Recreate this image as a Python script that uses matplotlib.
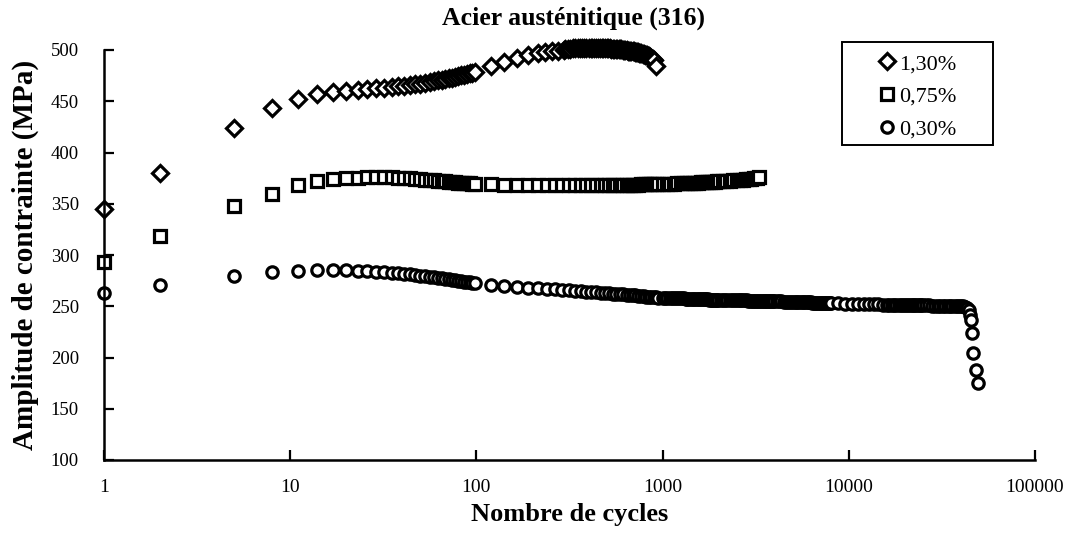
import matplotlib
matplotlib.use("Agg")
import matplotlib.pyplot as plt
from matplotlib.patches import Rectangle

# cycle numbers
cycles_early = [1, 2, 5, 8, 11, 14, 17, 20, 23, 26, 29, 32, 35, 38, 41, 44, 47, 50,
                53, 56, 59, 62, 65, 68, 71, 74, 77, 80, 83, 86, 89, 92, 95, 98]
cycles_mid = [120, 140, 165, 190, 215, 240, 265, 290, 315, 340, 365, 390, 415, 440,
              465, 490, 515, 540, 565, 590, 615, 640, 665, 690, 715, 740, 765, 790,
              815, 840, 870, 900, 925]
cycles_dia_mid = [120, 140, 165, 190, 215, 235, 255, 275, 295,
                  300, 310, 320, 330, 340, 350, 360, 370, 380, 390,
                  400, 410, 420, 430, 440, 450, 460, 470, 480, 490,
                  500, 510, 520, 530, 540, 550, 560, 570, 580, 590,
                  600, 610, 620, 630, 640, 650, 660, 670, 680, 690,
                  700, 710, 720, 730, 740, 750, 760, 770, 780, 790,
                  800, 810, 820, 830, 840, 850, 860, 870, 880, 890,
                  900, 925]
cycles_sq_tail = [950, 1000, 1050, 1100, 1150, 1200, 1250, 1300, 1350, 1400, 1450,
                  1500, 1550, 1600, 1650, 1700, 1750, 1800, 1850, 1900, 1950, 2000,
                  2100, 2200, 2300, 2400, 2500, 2600, 2700, 2800, 2900, 3000, 3100,
                  3200, 3300]
cycles_circ_tail = [950,
                    1000, 1030, 1060, 1090, 1120, 1150, 1180, 1210, 1240, 1270,
                    1300, 1330, 1360, 1390, 1420, 1450, 1480, 1510, 1540, 1570,
                    1600, 1630, 1660, 1690, 1720, 1750, 1780, 1810, 1840, 1870,
                    1900, 1930, 1960, 1990,
                    2050, 2110, 2170, 2230, 2290, 2350, 2410, 2470, 2530, 2590,
                    2650, 2710, 2770, 2830, 2890, 2950, 3010, 3070, 3130, 3190,
                    3250, 3310, 3370, 3430, 3490, 3550, 3610, 3670, 3730, 3790,
                    3850, 3910, 3970,
                    4100, 4220, 4340, 4460, 4580, 4700, 4820, 4940, 5060, 5180,
                    5300, 5420, 5540, 5660, 5780, 5900, 6020, 6140, 6260, 6380,
                    6500, 6620, 6740, 6860, 6980, 7100, 7220, 7340, 7460, 7580,
                    7700, 7820, 7940,
                    8000, 8800, 9600, 10400, 11200, 12000, 12800, 13600, 14400,
                    15200, 16000,
                    16500, 17000, 17500, 18000, 18500, 19000, 19500, 20000, 20500,
                    21000, 21500, 22000, 22500, 23000, 23500, 24000, 24500,
                    25000, 26000, 27000, 28000, 29000, 30000, 31000, 32000, 33000,
                    34000, 35000, 36000, 37000, 38000, 39000, 40000, 41000,
                    42000, 43000, 44000, 44700, 45200, 45700, 46600, 48000, 49600]

# stress amplitude (MPa)
s130_early = [345, 380, 424, 443, 452, 457, 459, 460, 461, 462, 462.5, 463, 464, 464.5,
              465, 466, 466.5, 467, 468, 469, 470, 470.5, 471, 472, 472.5, 473, 474,
              475, 475.5, 476, 477, 477.5, 478, 479]
s130_mid = [484, 488, 492, 495, 497, 498, 499, 499.5, 500,
            500.5, 501, 501, 501.5, 501.5, 502, 502, 502, 502, 502,
            502, 502, 502, 502, 502, 502, 502, 502, 501.5, 501.5,
            501.5, 501.5, 501.5, 501, 501, 501, 501, 500.5, 500.5, 500.5,
            500.5, 500, 500, 500, 500, 499.5, 499.5, 499.5, 499, 499,
            499, 498.5, 498.5, 498, 498, 497.5, 497, 497, 496.5, 496,
            495.5, 495, 495, 494.5, 494, 493.5, 493, 492, 491.5, 491,
            490, 484]

s075_early = [293, 319, 348, 360, 368, 372, 374, 375, 375.5, 376, 376, 376, 376, 375.5,
              375, 375, 374.5, 374, 373.5, 373, 373, 372.5, 372, 372, 371.5, 371, 371,
              370.5, 370.5, 370, 370, 370, 369.5, 369]
s075_mid = [369, 368.5, 368.5, 368, 368, 368, 368, 368, 368, 368, 368, 368, 368, 368,
            368, 368, 368, 368, 368, 368, 368.5, 368.5, 368.5, 368.5, 368.5, 368.5, 369,
            369, 369, 369, 369, 369, 369]
s075_tail = [369.5, 369.5, 369.5, 369.5, 369.5, 370, 370, 370, 370, 370.5, 370.5, 370.5,
             370.5, 371, 371, 371, 371, 371.5, 371.5, 371.5, 372, 372,
             372, 372.5, 372.5, 373, 373, 373.5, 373.5, 374, 374, 374.5, 375, 375.5,
             376.5]

s030_early = [263, 271, 279.5, 283, 284.5, 285, 285, 285, 284.5, 284, 283.5, 283, 282.5,
              282, 281.5, 281, 280.5, 280, 279.5, 279, 278.5, 278, 277.5, 277, 276.5,
              276, 275.5, 275, 274.5, 274, 274, 273.5, 273, 272.5]
s030_mid = [271, 270, 269, 268, 267.5, 267, 266.5, 266, 265.5, 265, 264.5, 264, 264,
            263.5, 263, 263, 262.5, 262, 262, 261.5, 261.5, 261, 261, 260.5, 260.5, 260,
            260, 260, 259.5, 259.5, 259, 259, 259]
s030_tail = [258.5,
             258.5, 258.5, 258.5, 258.5, 258.5, 258, 258, 258, 258, 258,
             258, 257.5, 257.5, 257.5, 257.5, 257.5, 257.5, 257.5, 257, 257,
             257, 257, 257, 257, 257, 257, 256.5, 256.5, 256.5, 256.5,
             256.5, 256.5, 256.5, 256.5,
             256.5, 256.5, 256.5, 256.5, 256, 256, 256, 256, 256, 256,
             256, 256, 256, 256, 255.5, 255.5, 255.5, 255.5, 255.5, 255.5,
             255.5, 255.5, 255.5, 255.5, 255, 255, 255, 255, 255, 255,
             255, 255, 255,
             255, 255, 255, 254.5, 254.5, 254.5, 254.5, 254.5, 254.5, 254.5,
             254.5, 254, 254, 254, 254, 254, 254, 254, 254, 253.5,
             253.5, 253.5, 253.5, 253.5, 253.5, 253.5, 253.5, 253, 253, 253,
             253, 253, 253,
             253, 253, 252.5, 252.5, 252.5, 252, 252, 252, 252,
             251.5, 251.5,
             251.5, 251.5, 251.5, 251.5, 251.5, 251.5, 251, 251, 251,
             251, 251, 251, 251, 251, 251, 251, 251,
             251, 251, 251, 250.5, 250.5, 250.5, 250.5, 250.5, 250.5,
             250.5, 250.5, 250.5, 250.5, 250.5, 250, 250, 250,
             249.5, 248.5, 246, 241, 236.5, 223.5, 204, 188, 175]

labels = ["1,30%", "0,75%", "0,30%"]
x_ticks = [1, 10, 100, 1000, 10000, 100000]
y_ticks = [100, 150, 200, 250, 300, 350, 400, 450, 500]

plt.rcParams["font.family"] = ["Liberation Serif", "DejaVu Serif"]

fig = plt.figure(figsize=(10.68, 5.33), dpi=100)
ax = fig.add_axes([104 / 1068, 73 / 533, 931 / 1068, 410 / 533])

mk = dict(linestyle="none", markerfacecolor="white", markeredgecolor="black",
          markeredgewidth=2.3)
ax.plot(cycles_early + cycles_dia_mid, s130_early + s130_mid, marker="D", ms=8.3,
        label=labels[0], clip_on=False, **mk)
ax.plot(cycles_early + cycles_mid + cycles_sq_tail, s075_early + s075_mid + s075_tail,
        marker="s", ms=8, label=labels[1], clip_on=False, **mk)
ax.plot(cycles_early + cycles_mid + cycles_circ_tail, s030_early + s030_mid + s030_tail,
        marker="o", ms=8.2, label=labels[2], clip_on=False, **mk)

ax.set_xscale("log")
ax.set_xlim(1, 100000)
ax.set_ylim(100, 500)
ax.set_xticks(x_ticks)
ax.set_xticklabels([str(v) for v in x_ticks])
ax.xaxis.set_minor_locator(matplotlib.ticker.NullLocator())
ax.set_yticks(y_ticks)
ax.tick_params(axis="x", direction="in", length=7, width=1.6, pad=14, labelsize=14)
ax.tick_params(axis="y", direction="in", length=7, width=1.6, pad=18, labelsize=13.5)
for side in ("top", "right"):
    ax.spines[side].set_visible(False)
for side in ("left", "bottom"):
    ax.spines[side].set_linewidth(1.8)

ax.set_xlabel("Nombre de cycles", fontsize=19, fontweight="bold", labelpad=5)
fig.text(25 / 1068, 1 - 255 / 533, "Amplitude de contrainte (MPa)", rotation=90,
         ha="center", va="center", fontsize=21, fontweight="bold")
fig.text(574 / 1068, 1 - 18 / 533, "Acier austénitique (316)", ha="center",
         va="center", fontsize=18.5, fontweight="bold")

# legend box
ax.add_patch(Rectangle((0.7925, 0.768), 0.1624, 0.251, transform=ax.transAxes,
                       fill=False, edgecolor="black", linewidth=1.4, clip_on=False))
ax.legend(loc="center", bbox_to_anchor=(0.875, 0.886), frameon=False, fontsize=16,
          handlelength=0.6, handletextpad=0.25, labelspacing=0.55, borderpad=0.2)

fig.savefig("out.png", dpi=100)
